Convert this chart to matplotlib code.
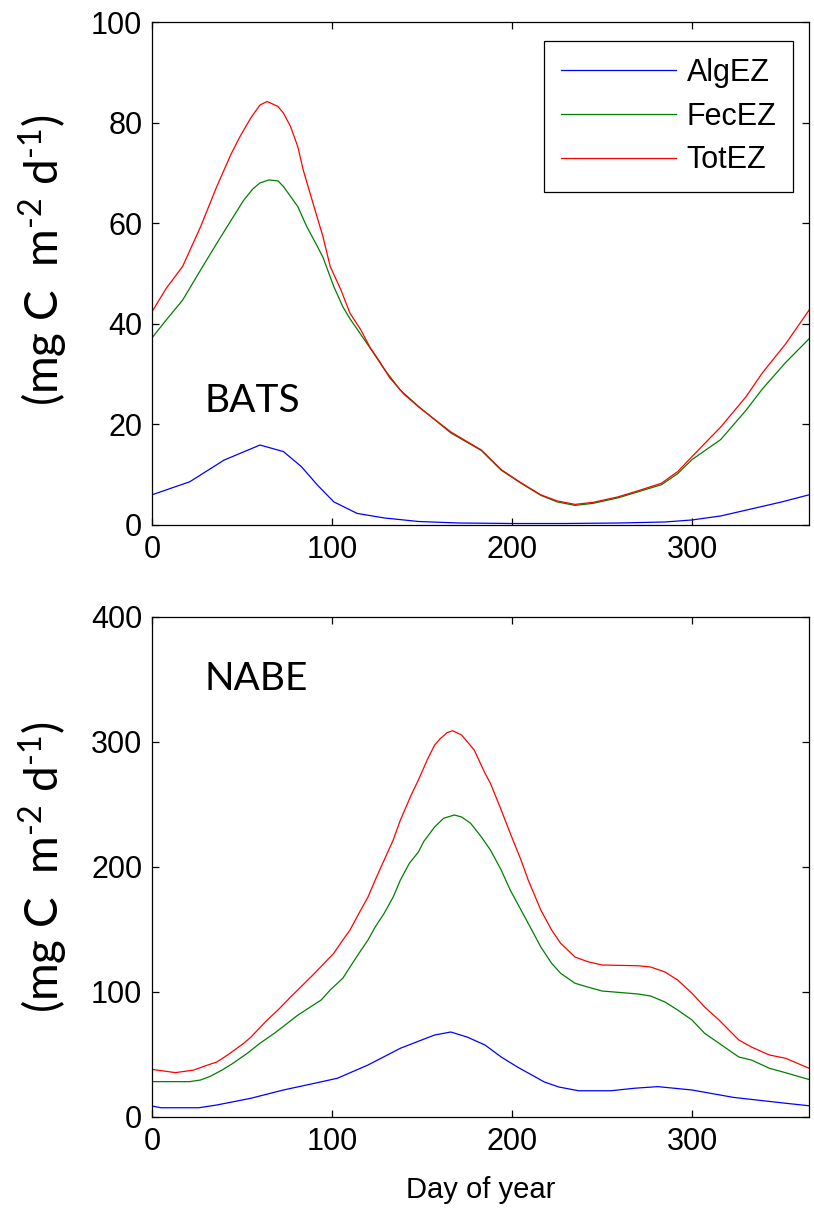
import matplotlib
matplotlib.use("Agg")
import matplotlib.pyplot as plt

# ---------------- data ----------------
bats_day_tot = [0, 8, 17, 27, 36, 44, 49, 55, 60, 64, 70, 73, 77, 81, 84, 90, 95, 99, 105, 110, 116, 121, 127, 132, 140, 148, 166, 183, 194, 205, 216, 225, 235, 245, 259, 270, 283, 292, 300, 316, 330, 339, 352, 365]
bats_tot = [42.4, 47.1, 51.4, 59.3, 67.3, 73.8, 77.3, 81.0, 83.5, 84.2, 83.2, 81.9, 79.2, 75.2, 70.6, 63.3, 57.3, 51.4, 46.7, 42.1, 38.8, 35.4, 32.2, 29.3, 26.0, 23.5, 18.5, 14.9, 11.0, 8.4, 6.0, 4.8, 4.1, 4.5, 5.6, 6.8, 8.3, 10.6, 13.6, 19.5, 25.5, 30.2, 36.0, 42.7]
bats_day_fec = [0, 8, 17, 27, 36, 44, 51, 56, 60, 65, 70, 73, 81, 86, 92, 95, 101, 106, 110, 120, 129, 138, 148, 166, 183, 194, 205, 216, 225, 235, 245, 259, 270, 283, 292, 300, 316, 330, 339, 352, 365]
bats_fec = [37.2, 40.8, 44.7, 50.7, 56.0, 60.6, 64.6, 66.8, 68.0, 68.6, 68.4, 67.3, 63.3, 59.3, 55.3, 53.2, 47.4, 43.4, 41.0, 35.8, 31.0, 26.8, 23.6, 18.3, 14.8, 10.9, 8.3, 5.9, 4.6, 3.9, 4.3, 5.4, 6.6, 8.0, 10.2, 13.0, 17.0, 22.8, 27.0, 32.3, 37.0]
bats_day_alg = [0, 21, 40, 60, 73, 83, 92, 101, 114, 129, 148, 170, 200, 230, 260, 285, 300, 316, 333, 350, 365]
bats_alg = [6.0, 8.6, 12.9, 15.9, 14.6, 11.6, 7.9, 4.6, 2.3, 1.4, 0.7, 0.4, 0.3, 0.3, 0.4, 0.6, 1.0, 1.8, 3.2, 4.6, 6.0]

nabe_day_tot = [0, 13, 23, 31, 36, 42, 51, 55, 64, 70, 77, 83, 90, 95, 101, 106, 110, 115, 120, 124, 129, 134, 138, 144, 148, 153, 157, 160, 164, 167, 172, 179, 185, 188, 194, 199, 205, 209, 216, 222, 227, 235, 242, 250, 270, 277, 285, 292, 300, 307, 315, 326, 333, 343, 352, 365]
nabe_tot = [38.1, 35.5, 37.5, 41.6, 44.0, 49.6, 59.0, 64.0, 77.6, 85.6, 96.0, 104.5, 114.5, 122.0, 131.0, 141.6, 149.6, 163.0, 176.0, 189.6, 205.6, 221.6, 237.6, 257.6, 269.6, 286.0, 297.5, 302.5, 307.5, 309.0, 305.6, 293.6, 275.0, 267.0, 245.6, 227.0, 205.6, 189.6, 165.6, 149.6, 139.0, 128.0, 124.3, 121.6, 121.0, 120.0, 116.0, 109.6, 99.0, 88.0, 77.6, 61.6, 56.0, 49.6, 47.0, 39.0]
nabe_day_fec = [0, 21, 27, 32, 39, 45, 53, 60, 68, 73, 81, 88, 94, 99, 106, 110, 115, 120, 124, 129, 134, 138, 143, 148, 151, 157, 162, 168, 172, 177, 183, 188, 194, 199, 205, 211, 216, 222, 227, 235, 242, 250, 270, 277, 285, 292, 300, 307, 315, 326, 333, 343, 352, 365]
nabe_fec = [28.3, 28.3, 29.6, 32.3, 37.6, 43.0, 51.0, 59.0, 67.0, 72.5, 81.5, 88.0, 93.6, 101.6, 111.0, 120.0, 131.0, 141.6, 152.0, 163.0, 176.0, 189.6, 203.0, 212.0, 220.5, 232.0, 239.0, 241.6, 240.0, 235.0, 224.0, 213.6, 197.6, 181.6, 165.6, 149.6, 136.0, 123.0, 115.0, 107.0, 104.0, 100.8, 98.4, 96.8, 92.0, 85.6, 77.6, 67.0, 59.0, 48.0, 45.6, 39.0, 35.4, 30.0]
nabe_day_alg = [0, 5, 26, 36, 55, 73, 92, 103, 120, 138, 157, 166, 175, 185, 194, 203, 211, 218, 226, 237, 255, 268, 281, 300, 323, 352, 365]
nabe_alg = [8.8, 7.4, 7.4, 9.6, 15.0, 21.6, 27.5, 31.0, 41.6, 55.0, 65.6, 68.0, 64.0, 57.6, 48.0, 40.0, 33.6, 28.0, 24.0, 21.0, 21.0, 23.0, 24.3, 21.6, 15.7, 11.0, 9.0]

series_names = ["AlgEZ", "FecEZ", "TotEZ"]
series_colors = ["#0000ff", "#007f00", "#ff0000"]
xticks = [0, 100, 200, 300]
bats_yticks = [0, 20, 40, 60, 80, 100]
nabe_yticks = [0, 100, 200, 300, 400]
ylabel_text = "(mg C  m$^{\\mathregular{\u20102}}$ d$^{\\mathregular{\u20101}}$)"

plt.rcParams["mathtext.fontset"] = "custom"
plt.rcParams["mathtext.rm"] = "Lato"
plt.rcParams["mathtext.it"] = "Lato"

TICK_FONT = "Liberation Sans"
TICK_SIZE = 22
fig = plt.figure(figsize=(8.14, 12.15), dpi=100)
W, H = 814, 1215
def rect(l, t, r, b):
    return [l / W, 1 - b / H, (r - l) / W, (b - t) / H]

ax1 = fig.add_axes(rect(152, 22, 809, 525))
ax2 = fig.add_axes(rect(152, 617, 809, 1117))

panels = [
    (ax1, [(bats_day_alg, bats_alg), (bats_day_fec, bats_fec), (bats_day_tot, bats_tot)], bats_yticks, "BATS", 0.2247, 0.527),
    (ax2, [(nabe_day_alg, nabe_alg), (nabe_day_fec, nabe_fec), (nabe_day_tot, nabe_tot)], nabe_yticks, "NABE", 0.854, 0.5),
]

for ax, series, yt, name, ty, ly in panels:
    for (d, v), lab, c in zip(series, series_names, series_colors):
        ax.plot(d, v, color=c, lw=0.9, label=lab)
    ax.set_xlim(0, 365)
    ax.set_ylim(yt[0], yt[-1])
    ax.set_xticks(xticks)
    ax.set_yticks(yt)
    ax.tick_params(direction="in", length=5, width=0.9, top=True, right=True,
                   labelsize=TICK_SIZE, pad=7)
    for lbl in ax.get_xticklabels() + ax.get_yticklabels():
        lbl.set_family(TICK_FONT)
    for s in ax.spines.values():
        s.set_linewidth(0.9)
    ax.set_ylabel(ylabel_text, family="Lato", fontsize=33)
    ax.yaxis.set_label_coords(-0.125, ly)
    ax.text(0.0805, ty, name, transform=ax.transAxes, family="Lato", fontsize=28,
            ha="left", va="baseline")

leg = ax1.legend(loc="upper right", bbox_to_anchor=(0.976, 0.962), borderaxespad=0,
                 fancybox=False, edgecolor="black", framealpha=1,
                 prop={"family": TICK_FONT, "size": TICK_SIZE},
                 handlelength=3.75, handletextpad=0.35, labelspacing=0.45, borderpad=0.55)
leg.get_frame().set_linewidth(0.9)

ax2.set_xlabel("Day of year", family=TICK_FONT, fontsize=21, labelpad=14)

fig.savefig("out.png", dpi=100)
